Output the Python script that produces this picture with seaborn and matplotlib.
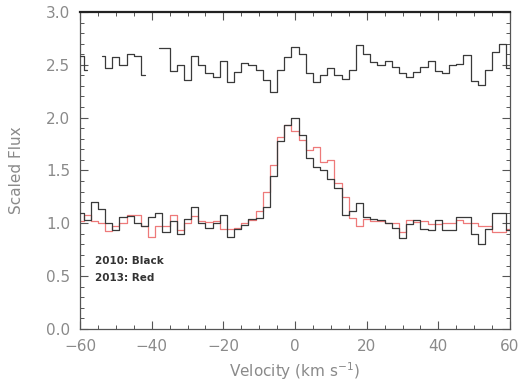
import numpy as np
import pandas as pd
import matplotlib
matplotlib.use("Agg")
import matplotlib.pyplot as plt
import seaborn as sns
from matplotlib.ticker import MultipleLocator, FixedFormatter

# Velocity bin centres (km/s)
velocity = list(range(-60, 61, 2))

# 2010 spectrum (black)
flux_2010 = [1.10, 1.03, 1.20, 1.14, 1.00, 0.94, 1.06, 1.07, 1.00, 0.97,
             1.06, 1.10, 0.92, 1.02, 0.90, 1.04, 1.15, 1.00, 0.96, 1.00,
             1.08, 0.87, 0.95, 0.98, 1.04, 1.05, 1.15, 1.45, 1.78, 1.93,
             2.00, 1.84, 1.62, 1.53, 1.50, 1.42, 1.33, 1.08, 1.12, 1.19,
             1.06, 1.04, 1.03, 1.00, 0.96, 0.86, 0.99, 1.03, 0.95, 0.94,
             1.03, 0.94, 0.94, 1.06, 1.06, 0.90, 0.80, 0.95, 1.10, 1.10,
             0.94]

# 2013 spectrum (red)
flux_2013 = [1.02, 1.08, 1.02, 1.00, 0.93, 0.97, 1.00, 1.08, 1.08, 0.97,
             0.87, 0.97, 0.97, 1.08, 0.94, 1.00, 1.07, 1.02, 1.01, 1.02,
             0.95, 0.95, 0.96, 1.00, 1.03, 1.12, 1.30, 1.55, 1.82, 1.93,
             1.87, 1.79, 1.69, 1.72, 1.58, 1.60, 1.38, 1.25, 1.05, 0.97,
             1.04, 1.02, 1.02, 1.00, 1.00, 0.92, 1.03, 1.01, 1.02, 0.99,
             0.99, 1.00, 1.00, 1.03, 1.00, 1.00, 0.97, 0.97, 0.92, 0.92,
             0.95]

# Offset comparison spectrum (NaN marks missing bins)
flux_upper = [2.58, 2.45, np.nan, 2.58, 2.47, 2.57, 2.50, 2.60, 2.58, 2.40,
              np.nan, 2.66, 2.66, 2.44, 2.50, 2.36, 2.58, 2.50, 2.42, 2.38,
              2.54, 2.34, 2.43, 2.52, 2.50, 2.45, 2.36, 2.24, 2.45, 2.57,
              2.67, 2.60, 2.42, 2.34, 2.40, 2.47, 2.40, 2.37, 2.45, 2.69,
              2.60, 2.53, 2.50, 2.54, 2.48, 2.42, 2.38, 2.43, 2.48, 2.54,
              2.44, 2.42, 2.50, 2.51, 2.59, 2.35, 2.31, 2.45, 2.62, 2.70,
              2.47]

x_ticks = [-60, -40, -20, 0, 20, 40, 60]
x_tick_labels = ["\u221260", "\u221240", "\u221220", "0", "20", "40", "60"]
y_ticks = [0.0, 0.5, 1.0, 1.5, 2.0, 2.5, 3.0]
y_tick_labels = ["0.0", "0.5", "1.0", "1.5", "2.0", "2.5", "3.0"]

sns.set_theme(style="ticks")
plt.rcParams["font.family"] = ["DejaVu Sans"]

# split the upper spectrum into contiguous pieces so gaps stay open
up = pd.DataFrame({"v": velocity, "f": flux_upper})
up["seg"] = up["f"].isna().cumsum()
up = up.dropna()

low = pd.DataFrame({"v": velocity, "f10": flux_2010, "f13": flux_2013})

fig = plt.figure(figsize=(5.21, 3.85), dpi=100)
ax = fig.add_axes([0.1536, 0.1455, 0.8253, 0.8235])

sns.lineplot(data=low, x="v", y="f13", ax=ax, color="#ee7a7a", lw=0.9,
             drawstyle="steps-mid", estimator=None, zorder=2)
sns.lineplot(data=low, x="v", y="f10", ax=ax, color="#3a3a3a", lw=0.9,
             drawstyle="steps-mid", estimator=None, zorder=3)
sns.lineplot(data=up, x="v", y="f", units="seg", ax=ax, color="#3a3a3a",
             lw=0.9, drawstyle="steps-mid", estimator=None, zorder=3)

label_col = "#8a8a8a"
ax.set_xlabel("Velocity (km s$^{-1}$)", color=label_col, fontsize=11, labelpad=5)
ax.set_ylabel("Scaled Flux", color=label_col, fontsize=11, labelpad=16)

ax.text(0.035, 0.215, "2010: Black", transform=ax.transAxes, fontsize=7.5,
        fontweight="bold", color="#333333", va="center")
ax.text(0.035, 0.16, "2013: Red", transform=ax.transAxes, fontsize=7.5,
        fontweight="bold", color="#333333", va="center")

for side, sp in ax.spines.items():
    sp.set_color("#555555")
    sp.set_linewidth(0.9)
ax.spines["top"].set_color("#222222")
ax.spines["top"].set_linewidth(1.6)

ax.set_xlim(-60, 60)
ax.set_ylim(0, 3.0)
ax.set_xticks(x_ticks)
ax.set_yticks(y_ticks)
ax.xaxis.set_major_formatter(FixedFormatter(x_tick_labels))
ax.yaxis.set_major_formatter(FixedFormatter(y_tick_labels))
ax.xaxis.set_minor_locator(MultipleLocator(5))
ax.yaxis.set_minor_locator(MultipleLocator(0.1))

# inward ticks on all four sides
ax.tick_params(which="both", direction="in", top=True, right=True,
               bottom=True, left=True, colors="#555555",
               labelcolor=label_col, labelsize=11)
ax.tick_params(which="major", length=6, width=0.8, pad=7)
ax.tick_params(which="minor", length=3, width=0.7)

fig.savefig("out.png", dpi=100)
